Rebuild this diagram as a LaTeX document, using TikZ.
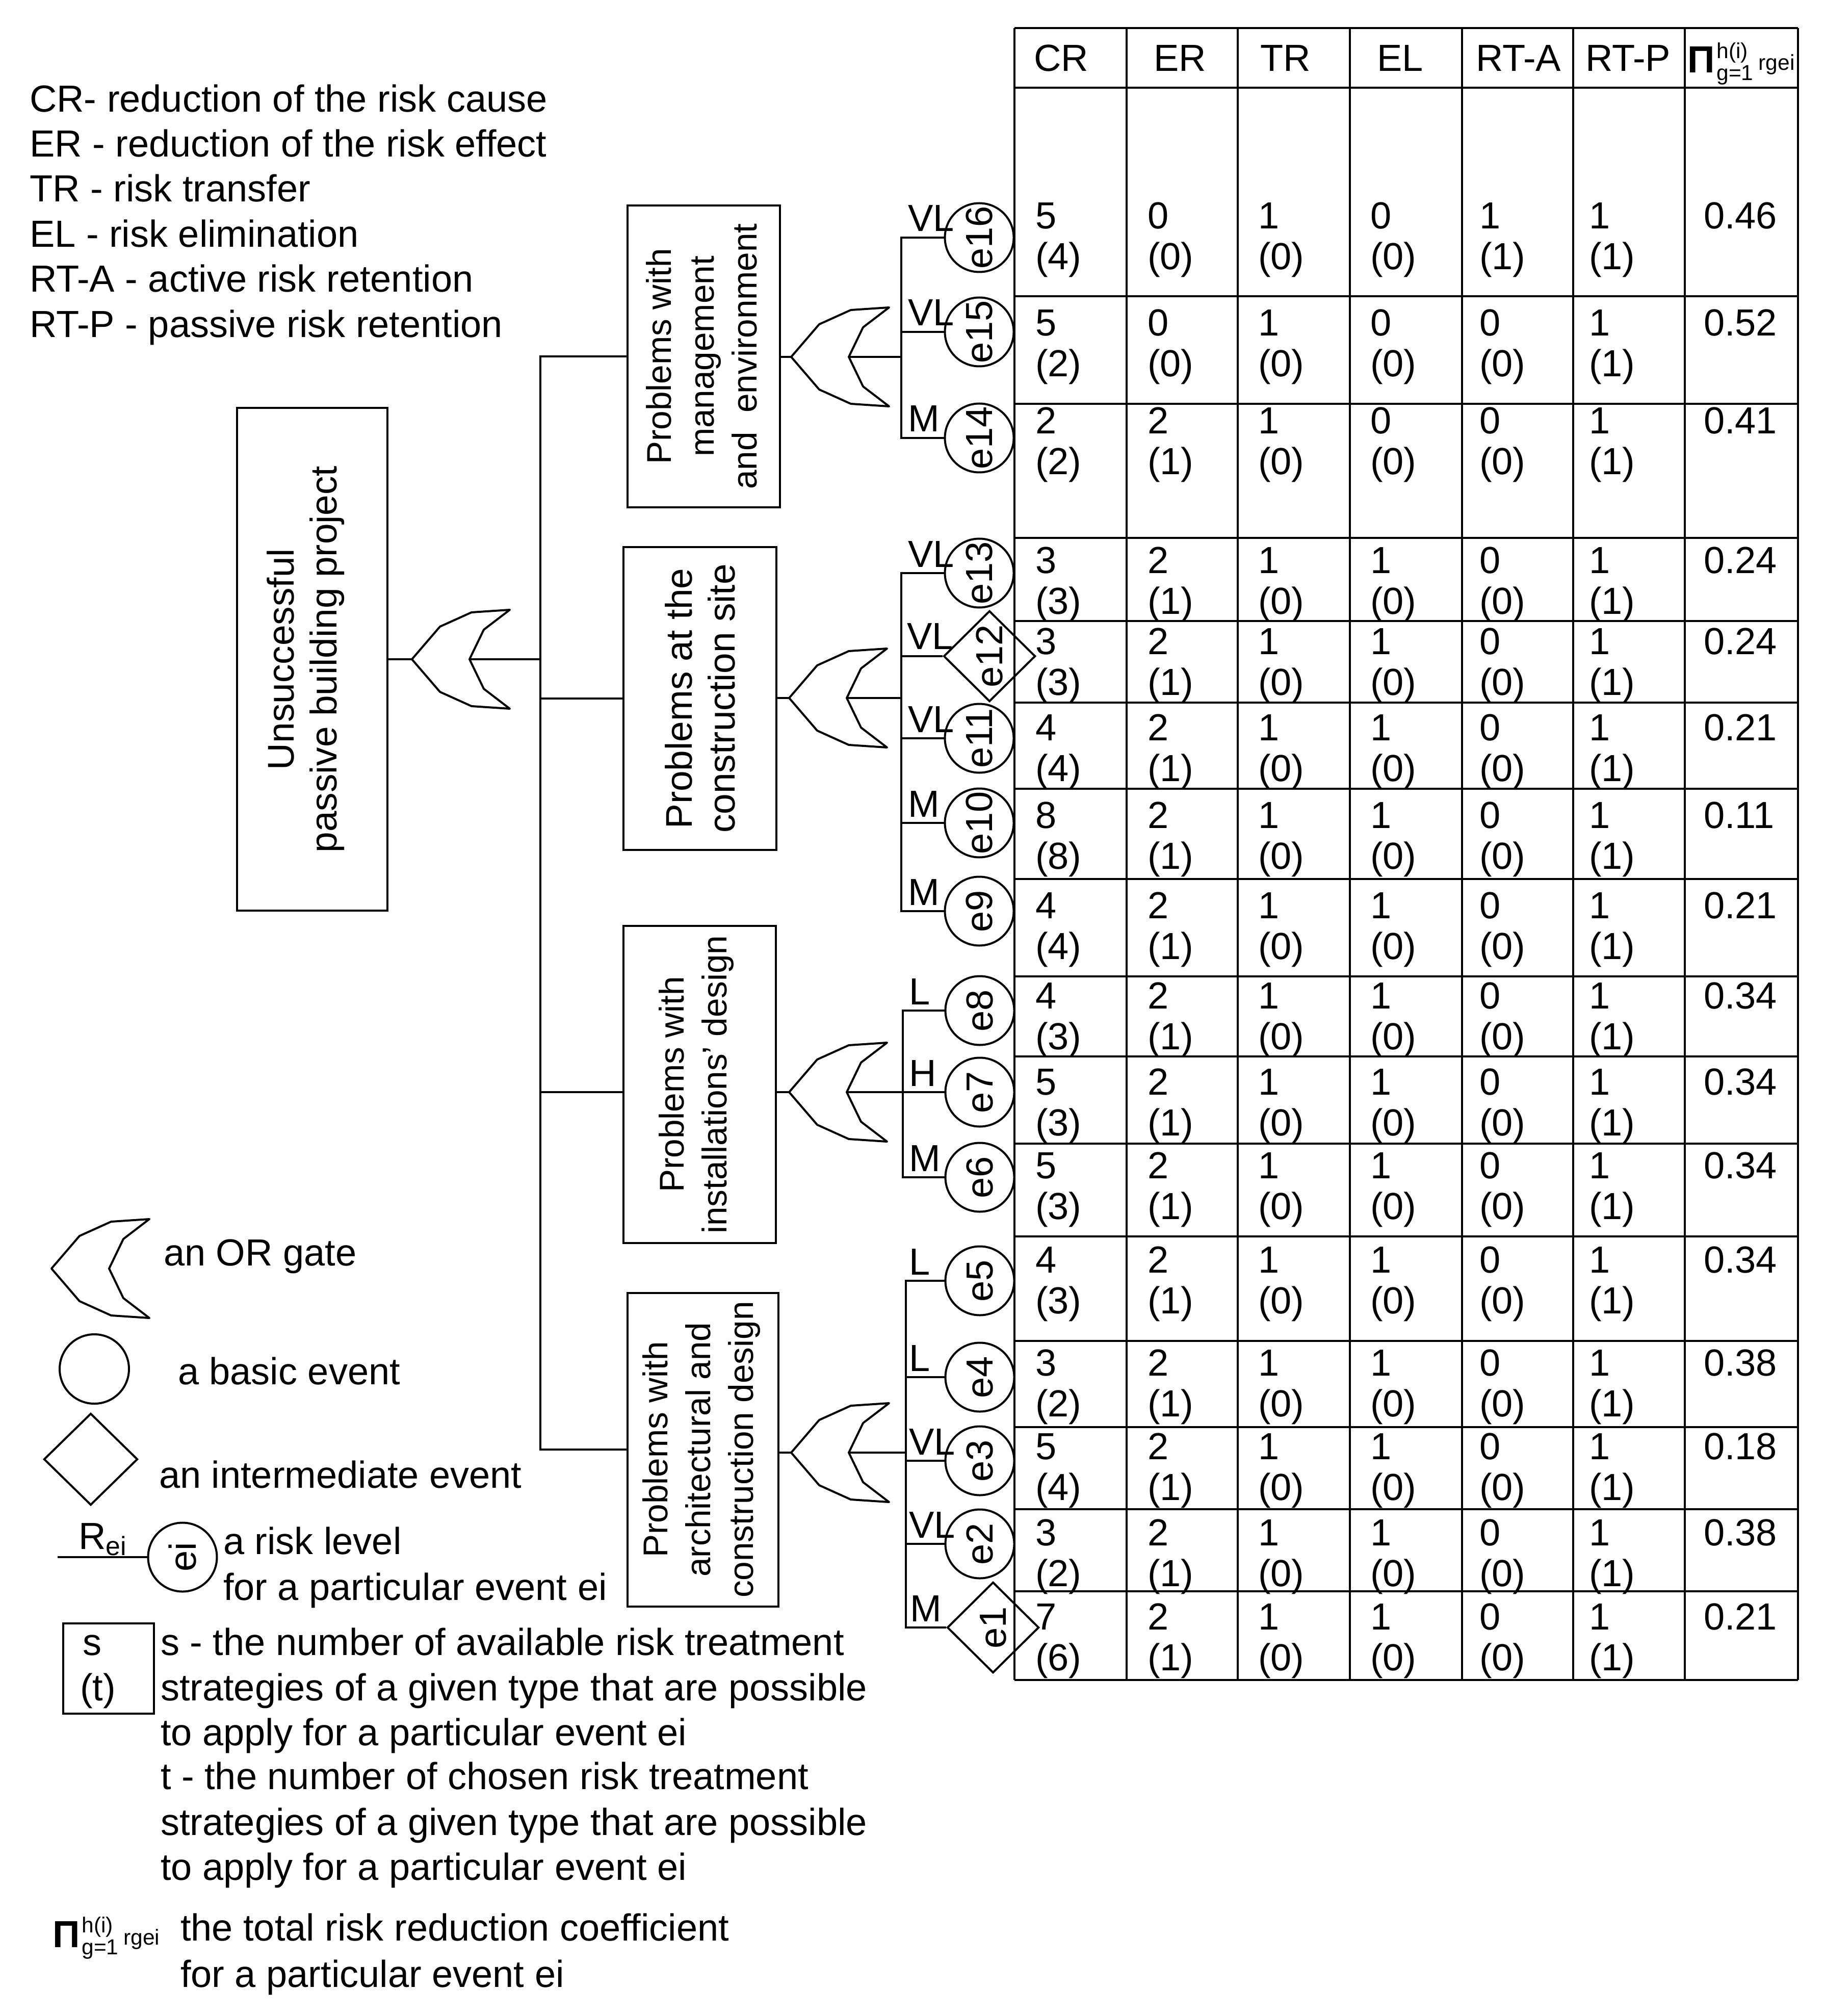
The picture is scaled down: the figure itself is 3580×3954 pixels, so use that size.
\documentclass[tikz,border=0pt]{standalone}
\usepackage{fontspec}
\setmainfont{Liberation Sans}
\usetikzlibrary{shapes.geometric}
\newcommand\sfx{\fontsize{8.5}{9}\selectfont}
\newcommand\coef{{\bfseries Π}\kern0.8pt\raisebox{1.2pt}{\sfx\begin{tabular}[c]{@{}l@{}}h(i)\\[-0.4pt]g=1\end{tabular}}\kern2pt\raisebox{1pt}{\sfx rgei}}
\begin{document}
\begin{tikzpicture}[x=0.2pt,y=-0.2pt,line width=0.8pt,
  every node/.style={inner sep=0pt,font=\fontsize{14.8}{17.4}\selectfont},
  box/.style={draw,rectangle},
  boxtext/.style={rotate=90,align=center,font=\fontsize{#1}{16.8}\selectfont},
  ev/.style={draw,circle,minimum size=27pt},
  iev/.style={draw,diamond,minimum width=36pt,minimum height=35.6pt},
  txt/.style={anchor=base west},
  lab/.style={anchor=base west},
  val/.style={anchor=base west},
  tline/.style={line width=0.9pt},
  orgate/.pic={\draw[line join=round] (0,0) -- (55,-64) -- (117,-92) -- (192,-97) -- (141,-58) -- (113,0) -- (141,58) -- (192,97) -- (117,92) -- (55,64) -- cycle;
    \coordinate (-out) at (0,0); \coordinate (-in) at (113,0);}]
\useasboundingbox (0,0) rectangle (3580,3954);

% ---------- top-left legend ----------
\node[txt] (l1) at (56,220) {CR- reduction of the risk cause};
\node[txt] (l2) at (56,308) {ER - reduction of the risk effect};
\node[txt] (l3) at (56,396) {TR - risk transfer};
\node[txt] (l4) at (56,485) {EL - risk elimination};
\node[txt] (l5) at (56,573) {RT-A - active risk retention};
\node[txt] (l6) at (56,662) {RT-P - passive risk retention};

% ---------- boxes ----------
\node[box,minimum width=59pt,minimum height=197pt] (top) at (612,1293) {};
\node[boxtext=14.6] (toptext) at (600,1293) {Unsuccessful\\passive building project};
\node[box,minimum width=59.8pt,minimum height=118.4pt] (mgmt) at (1380,699) {};
\node[boxtext=13.5] (mgmttext) at (1376,699) {Problems with\\management\\and\ \ environment};
\node[box,minimum width=60pt,minimum height=118.6pt] (site) at (1373,1370) {};
\node[boxtext=14.6] (sitetext) at (1373,1370) {Problems at the\\construction site};
\node[box,minimum width=59.8pt,minimum height=124.4pt] (inst) at (1372,2127) {};
\node[boxtext=13.5] (insttext) at (1366,2127) {Problems with\\installations' design};
\node[box,minimum width=59.2pt,minimum height=123pt] (arch) at (1379,2843) {};
\node[boxtext=13.5] (archtext) at (1376,2843) {Problems with\\architectural and\\construction design};

% ---------- gates ----------
\pic (g0) at (808,1293) {orgate};
\pic (g1) at (1552,700) {orgate};
\pic (g2) at (1548,1369) {orgate};
\pic (g3) at (1548,2142) {orgate};
\pic (g4) at (1552,2849) {orgate};

\coordinate (mb) at (1060,0);
\draw (top.east) -- (g0-out);
\draw (g0-in) -- (g0-in -| mb);
\draw (mgmt.west) -- (mgmt.west -| mb) -- (arch.west -| mb) -- (arch.west);
\draw (site.west) -- (site.west -| mb);
\draw (inst.west |- g3-out) -- (g3-out -| mb);
\draw (mgmt.east |- g1-out) -- (g1-out);
\draw (site.east |- g2-out) -- (g2-out);
\draw (inst.east |- g3-out) -- (g3-out);
\draw (arch.east |- g4-out) -- (g4-out);

% ---------- events ----------
\foreach \n/\yy/\lab in {16/466/VL,15/651/VL,14/859/M,13/1124/VL,11/1448/VL,10/1614/M,9/1787/M}{
  \node[ev] (e\n) at (1921,\yy) {\rotatebox{90}{e\n}};
  \node[lab] (r\n) at (1779,\yy-12) {\lab};
}
\foreach \n/\yy/\lab in {8/1982/L,7/2142/H,6/2309/M,5/2512/L,4/2701/L,3/2865/VL,2/3028/VL}{
  \node[ev] (e\n) at (1922,\yy) {\rotatebox{90}{e\n}};
  \node[lab] (r\n) at (1781,\yy-12) {\lab};
}
\node[iev] (e12) at (1941,1287) {\rotatebox{90}{e12}};
\node[lab] (r12) at (1777,1274) {VL};
\node[iev] (e1) at (1948,3192) {\rotatebox{90}{e1}};
\node[lab] (r1) at (1783,3180) {M};

\coordinate (sb1) at (1768,0);
\coordinate (sb2) at (1768,0);
\coordinate (sb3) at (1771,0);
\coordinate (sb4) at (1777,0);
\draw (e16.west) -- (e16.west -| sb1) -- (e14.west -| sb1) -- (e14.west);
\draw (e15.west) -- (e15.west -| sb1);
\draw (g1-in) -- (g1-in -| sb1);
\draw (e13.west) -- (e13.west -| sb2) -- (e9.west -| sb2) -- (e9.west);
\draw (e12.west) -- (e12.west -| sb2);
\draw (e11.west) -- (e11.west -| sb2);
\draw (e10.west) -- (e10.west -| sb2);
\draw (g2-in) -- (g2-in -| sb2);
\draw (e8.west) -- (e8.west -| sb3) -- (e6.west -| sb3) -- (e6.west);
\draw (g3-in) -- (e7.west);
\draw (e5.west) -- (e5.west -| sb4) -- (e1.west -| sb4) -- (e1.west);
\draw (e4.west) -- (e4.west -| sb4);
\draw (e3.west) -- (e3.west -| sb4);
\draw (e2.west) -- (e2.west -| sb4);
\draw (g4-in) -- (g4-in -| sb4);

% ---------- table ----------
\foreach \xx in {1990,2210,2428,2648,2868,3086,3305,3527}{
  \draw[tline] (\xx,55) -- (\xx,3295);
}
\foreach \yy in {55,172,581,792,1055,1218,1378,1547,1724,1915,2072,2243,2425,2630,2799,2960,3121,3295}{
  \draw[tline] (1990,\yy) -- (3527,\yy);
}
\node[txt] (hCR) at (2026,140) {CR};
\node[txt] (hER) at (2261,140) {ER};
\node[txt] (hTR) at (2470,140) {TR};
\node[txt] (hEL) at (2699,140) {EL};
\node[txt] (hRTA) at (2893,140) {RT-A};
\node[txt] (hRTP) at (3108,140) {RT-P};
\node[txt] (hK) at (3308,143) {\coef};

\foreach \n/\yy/\vA/\pA/\vB/\pB/\vC/\pC/\vD/\pD/\vE/\pE/\vF/\pF/\vK in {
  16/424/5/4/0/0/1/0/0/0/1/1/1/1/0.46,
  15/634/5/2/0/0/1/0/0/0/0/0/1/1/0.52,
  14/826/2/2/2/1/1/0/0/0/0/0/1/1/0.41,
  13/1099/3/3/2/1/1/0/1/0/0/0/1/1/0.24,
  12/1258/3/3/2/1/1/0/1/0/0/0/1/1/0.24,
  11/1427/4/4/2/1/1/0/1/0/0/0/1/1/0.21,
  10/1599/8/8/2/1/1/0/1/0/0/0/1/1/0.11,
  9/1776/4/4/2/1/1/0/1/0/0/0/1/1/0.21,
  8/1953/4/3/2/1/1/0/1/0/0/0/1/1/0.34,
  7/2122/5/3/2/1/1/0/1/0/0/0/1/1/0.34,
  6/2286/5/3/2/1/1/0/1/0/0/0/1/1/0.34,
  5/2471/4/3/2/1/1/0/1/0/0/0/1/1/0.34,
  4/2673/3/2/2/1/1/0/1/0/0/0/1/1/0.38,
  3/2837/5/4/2/1/1/0/1/0/0/0/1/1/0.18,
  2/3006/3/2/2/1/1/0/1/0/0/0/1/1/0.38,
  1/3171/7/6/2/1/1/0/1/0/0/0/1/1/0.21}{
  \node[val] (a\n) at (2029,\yy+25) {\vA};
  \node[val] (ap\n) at (2029,\yy+105) {(\pA)};
  \node[val] (b\n) at (2249,\yy+25) {\vB};
  \node[val] (bp\n) at (2249,\yy+105) {(\pB)};
  \node[val] (c\n) at (2466,\yy+25) {\vC};
  \node[val] (cp\n) at (2466,\yy+105) {(\pC)};
  \node[val] (d\n) at (2686,\yy+25) {\vD};
  \node[val] (dp\n) at (2686,\yy+105) {(\pD)};
  \node[val] (f\n) at (2900,\yy+25) {\vE};
  \node[val] (fp\n) at (2900,\yy+105) {(\pE)};
  \node[val] (g\n) at (3115,\yy+25) {\vF};
  \node[val] (gp\n) at (3115,\yy+105) {(\pF)};
  \node[val] (k\n) at (3340,\yy+25) {\vK};
}

% ---------- bottom legend ----------
\pic (lg) at (101,2488) {orgate};
\node[txt] (lgt) at (319,2482) {an OR gate};
\node[ev,minimum size=27.2pt] (lgb) at (185,2685) {};
\node[txt] (lgbt) at (347,2715) {a basic event};
\node[iev,minimum width=36.8pt,minimum height=36pt] (lgi) at (178,2862) {};
\node[txt] (lgit) at (310,2918) {an intermediate event};
\coordinate (lgl) at (113,3054);
\node[ev] (lgr) at (358,3054) {\rotatebox{90}{ei}};
\draw (lgl) -- (lgr);
\node[txt] (lgR) at (152,3038) {R\textsubscript{ei}};
\node[txt] (lgrt1) at (436,3048) {a risk level};
\node[txt] (lgrt2) at (436,3138) {for a particular event ei};
\node[box,minimum width=35.6pt,minimum height=35.4pt] (lgs) at (213,3272) {};
\node[txt] (lgs1) at (160,3246) {s};
\node[txt] (lgs2) at (155,3335) {(t)};
\node[txt] (st1) at (313,3246) {s - the number of available risk treatment};
\node[txt] (st2) at (313,3335) {strategies of a given type that are possible};
\node[txt] (st3) at (313,3423) {to apply for a particular event ei};
\node[txt] (st4) at (313,3509) {t - the number of chosen risk treatment};
\node[txt] (st5) at (313,3599) {strategies of a given type that are possible};
\node[txt] (st6) at (313,3687) {to apply for a particular event ei};
\node[txt] (lgk) at (101,3819) {\coef};
\node[txt] (lgk1) at (352,3806) {the total risk reduction coefficient};
\node[txt] (lgk2) at (352,3897) {for a particular event ei};
\end{tikzpicture}
\end{document}
